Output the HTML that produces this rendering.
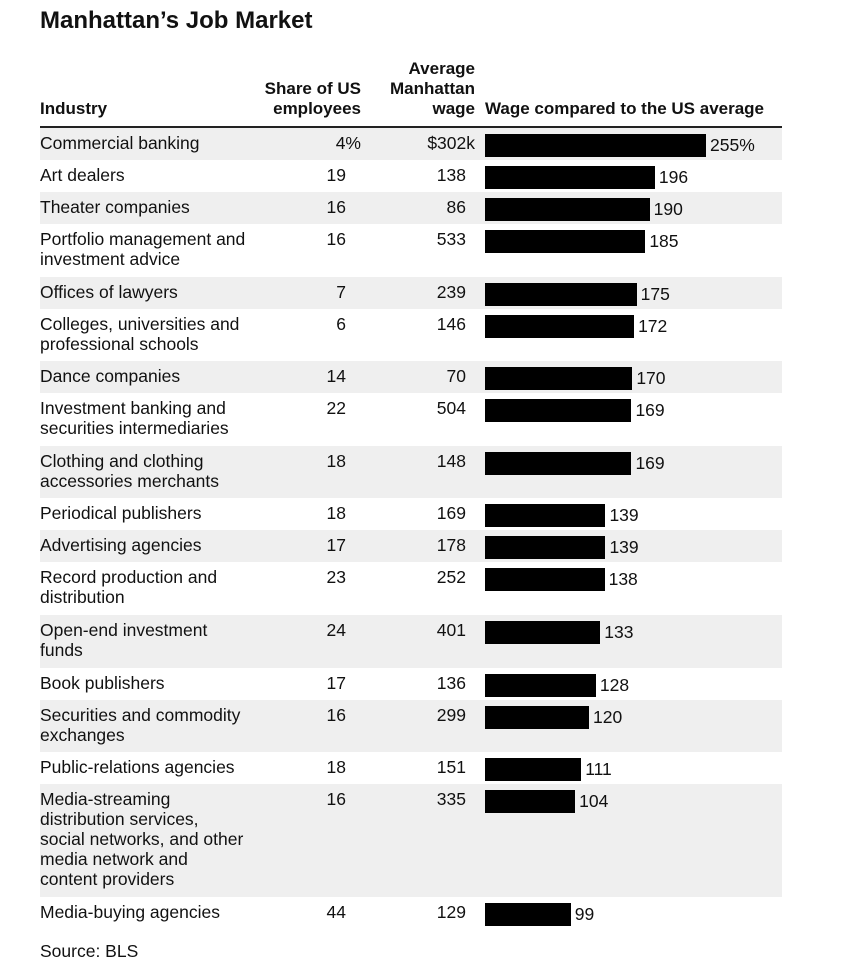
<!DOCTYPE html>
<html><head><meta charset="utf-8">
<style>
body{margin:0;width:841px;height:963px;background:#fff;font-family:"Liberation Sans",sans-serif;color:#111;position:relative;overflow:hidden}
.a{position:absolute;font-size:17.5px;line-height:20px;white-space:nowrap}
.b{font-weight:bold;font-size:17px}
.r{text-align:right}
</style></head><body>
<div class="a b" style="left:40px;top:7px;font-size:24px;line-height:28px">Manhattan’s Job Market</div>
<div class="a b" style="left:40px;top:99px">Industry</div>
<div class="a b r" style="right:480px;top:79px">Share of US<br>employees</div>
<div class="a b r" style="right:366px;top:59px">Average<br>Manhattan<br>wage</div>
<div class="a b" style="left:485px;top:99px">Wage compared to the US average</div>
<div style="position:absolute;left:40px;top:126px;width:742px;height:2px;background:#222"></div>
<div id="rows"></div>
<div class="a" style="left:40px;top:941px">Source: BLS</div>
<script>
const industries=["Commercial banking","Art dealers","Theater companies","Portfolio management and<br>investment advice","Offices of lawyers","Colleges, universities and<br>professional schools","Dance companies","Investment banking and<br>securities intermediaries","Clothing and clothing<br>accessories merchants","Periodical publishers","Advertising agencies","Record production and<br>distribution","Open-end investment<br>funds","Book publishers","Securities and commodity<br>exchanges","Public-relations agencies","Media-streaming<br>distribution services,<br>social networks, and other<br>media network and<br>content providers","Media-buying agencies"];
const shares=[4,19,16,16,7,6,14,22,18,18,17,23,24,17,16,18,16,44];
const wages=[302,138,86,533,239,146,70,504,148,169,178,252,401,136,299,151,335,129];
const ratios=[255,196,190,185,175,172,170,169,169,139,139,138,133,128,120,111,104,99];
const x0=485, pxPer=221/255;
const xs=v=>v*pxPer;
const c=document.getElementById('rows');
let y=129;
industries.forEach((name,i)=>{
  const lines=name.split('<br>').length;
  const h=12+20*lines+(lines>1?0.6:0);
  const row=document.createElement('div');
  
  
  row.style.cssText=`position:absolute;left:40px;top:${y-1}px;width:742px;height:${h}px;background:${i%2==0?'#efefef':'#fff'}`;
  c.appendChild(row);
  const t=document.createElement('div');t.className='a';
  
  
  t.style.cssText=`left:40px;top:${y+4}px`;t.innerHTML=name;c.appendChild(t);
  const s=document.createElement('div');s.className='a r';
  
  
  s.style.cssText=`right:${i==0?480:495}px;top:${y+4}px`;s.textContent=shares[i]+(i==0?'%':'');c.appendChild(s);
  const w=document.createElement('div');w.className='a r';
  
  
  w.style.cssText=`right:${i==0?366:375}px;top:${y+4}px`;w.textContent=(i==0?'$':'')+wages[i]+(i==0?'k':'');c.appendChild(w);
  const bw=xs(ratios[i]);
  const b=document.createElement('div');
  
  
  b.style.cssText=`position:absolute;left:${x0}px;top:${y+5}px;width:${bw}px;height:23px;background:#000`;c.appendChild(b);
  const l=document.createElement('div');l.className='a';
  
  
  l.style.cssText=`left:${x0+bw+4}px;top:${y+6}px`;l.textContent=ratios[i]+(i==0?'%':'');c.appendChild(l);
  y+=h;
});
</script>
</body></html>
